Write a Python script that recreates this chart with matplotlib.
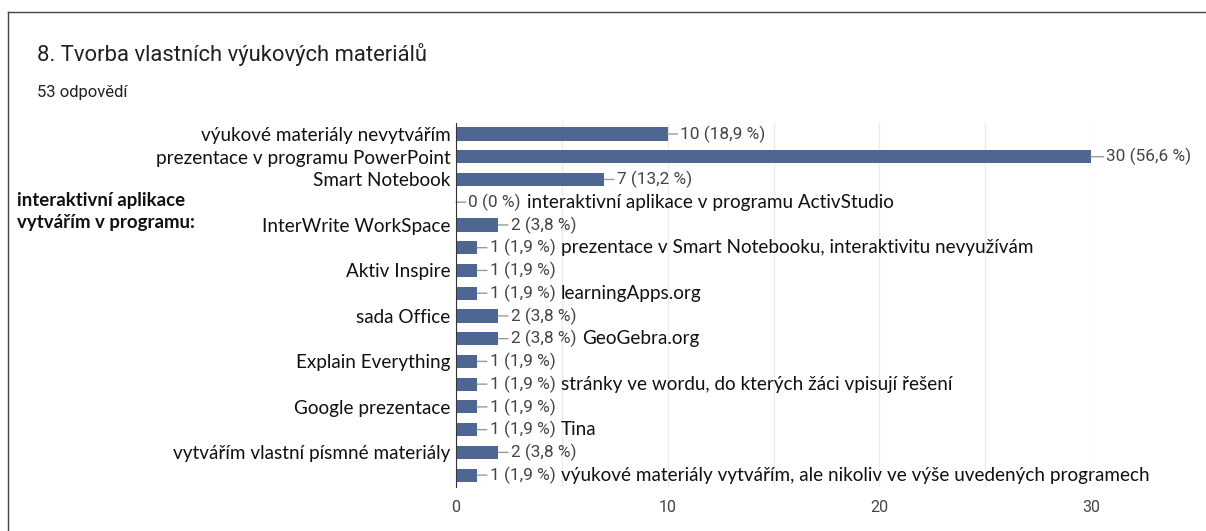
import matplotlib.pyplot as plt
from matplotlib.lines import Line2D

# Data
labels = ["výukové materiály nevytvářím", "prezentace v programu PowerPoint", "Smart Notebook", "",
          "InterWrite WorkSpace", "", "Aktiv Inspire", "", "sada Office", "",
          "Explain Everything", "", "Google prezentace", "", "vytvářím vlastní písmné materiály", ""]
notes = ["", "", "", "interaktivní aplikace v programu ActivStudio", "",
         "prezentace v Smart Notebooku, interaktivitu nevyužívám", "", "learningApps.org", "",
         "GeoGebra.org", "", "stránky ve wordu, do kterých žáci vpisují řešení", "", "Tina", "",
         "výukové materiály vytvářím, ale nikoliv ve výše uvedených programech"]
counts = [10, 30, 7, 0, 2, 1, 1, 1, 2, 2, 1, 1, 1, 1, 2, 1]
total = 53
xticks = [0, 10, 20, 30]

bar_color = "#4e6792"
label_font = ["Lato", "DejaVu Sans"]
value_font = ["Roboto", "DejaVu Sans"]

fig = plt.figure(figsize=(12.06, 5.31), dpi=100)
ax = fig.add_axes([456 / 1206, 1 - 486.5 / 531, (1091 - 456) / 1206, (486.5 - 122.6) / 531])

y = list(range(len(counts)))
ax.barh(y, counts, height=0.58, color=bar_color, zorder=2)
ax.set_ylim(len(counts) - 0.5, -0.5)
ax.set_xlim(0, 30)

ax.set_yticks(y)
ax.set_yticklabels(labels, fontsize=13.6, family=label_font, color="#111111")
ax.tick_params(axis="y", length=0, pad=4)

ax.set_xticks(xticks)
ax.set_xticks([5, 15, 25], minor=True)
ax.set_xticklabels([str(t) for t in xticks], fontsize=11.5, family=value_font, color="#444444")
ax.tick_params(axis="x", length=0, pad=10)
ax.tick_params(axis="x", which="minor", length=0)
ax.grid(axis="x", which="both", color="#ebebeb", linewidth=1, zorder=0)

for s in ["top", "right", "bottom"]:
    ax.spines[s].set_visible(False)
ax.spines["left"].set_color("#333333")
ax.spines["left"].set_zorder(3)

for i, (c, note) in enumerate(zip(counts, notes)):
    pct = c / total * 100
    pct_txt = "0" if c == 0 else f"{pct:.1f}".replace(".", ",")
    txt = f"{c} ({pct_txt} %)"
    t = ax.annotate(txt, xy=(c, i), xytext=(9 if c < 30 else 11, 0), textcoords="offset points",
                    va="center", ha="left", fontsize=12.4, family=value_font, color="#444444",
                    annotation_clip=False,
                    arrowprops=dict(arrowstyle="-", color="#999999", lw=1, shrinkA=0, shrinkB=0))
    if note:
        ax.annotate(note, xy=(1, 0.5), xycoords=t, xytext=(4, 0), textcoords="offset points",
                    va="center", ha="left", fontsize=13.6, family=label_font, color="#111111")

# Title and subtitle
fig.text(37 / 1206, 1 - 55 / 531, "8. Tvorba vlastních výukových materiálů", fontsize=15.8,
         family=["Roboto", "DejaVu Sans"], color="#202124", va="center")
fig.text(37 / 1206, 1 - 93 / 531, "53 odpovědí", fontsize=12,
         family=["Roboto", "DejaVu Sans"], color="#202124", va="center")

# Bold group label
fig.text(17 / 1206, 1 - 211.5 / 531, "interaktivní aplikace\nvytvářím v programu:", fontsize=13.4,
         family=label_font, fontweight="bold", color="#111111", va="center", linespacing=1.35)

# Card border
fig.add_artist(Line2D([8 / 1206, 1.01], [1 - 12 / 531] * 2, color="#444444", lw=1))
fig.add_artist(Line2D([8 / 1206] * 2, [1 - 12 / 531, -0.01], color="#444444", lw=1))

plt.savefig("out.png", dpi=100)
